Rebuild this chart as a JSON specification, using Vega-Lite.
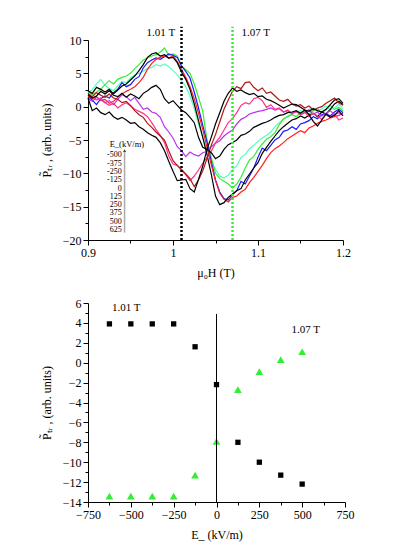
{
"$schema": "https://vega.github.io/schema/vega-lite/v6.json",
"background": "white",
"padding": {"left": 40, "top": 25, "right": 5, "bottom": 5},
"spacing": 19,
"resolve": {"scale": {"color": "independent", "shape": "independent", "size": "independent"}},
"config": {
 "view": {"stroke": null},
 "font": "Liberation Serif",
 "axis": {"grid": false, "domainColor": "#000", "tickColor": "#000", "labelColor": "#000", "titleColor": "#000", "labelFont": "Liberation Serif", "titleFont": "Liberation Serif", "labelFontSize": 12, "titleFontSize": 12, "titleFontWeight": "normal", "domainWidth": 1, "tickWidth": 1, "titlePadding": 9, "labelOverlap": false, "labelFlush": false}
},
"vconcat": [
 {
  "width": 255, "height": 200,
  "layer": [
   {
    "data": {"values": [
{"x":0.900,"k1":2.4,"b":1.5,"r":1.6,"g":2.3,"aq":2.0,"k2":1.8,"v":1.2,"p":1.8,"dr":2.0,"k3":1.3},
{"x":0.905,"k1":2.0,"b":1.0,"r":1.2,"g":1.8,"aq":2.6,"k2":1.3,"v":0.8,"p":1.4,"dr":1.5,"k3":-0.6},
{"x":0.910,"k1":2.9,"b":0.3,"r":1.5,"g":2.2,"aq":3.4,"k2":1.6,"v":1.4,"p":1.0,"dr":2.1,"k3":-0.2},
{"x":0.915,"k1":2.6,"b":1.2,"r":0.9,"g":2.6,"aq":4.1,"k2":2.3,"v":1.0,"p":1.3,"dr":1.7,"k3":-0.9},
{"x":0.920,"k1":2.2,"b":1.6,"r":1.1,"g":3.3,"aq":3.2,"k2":1.9,"v":0.6,"p":0.6,"dr":1.4,"k3":-1.2},
{"x":0.925,"k1":2.6,"b":1.3,"r":0.5,"g":3.9,"aq":2.7,"k2":2.4,"v":0.9,"p":0.2,"dr":1.9,"k3":-0.8},
{"x":0.930,"k1":1.9,"b":2.1,"r":0.8,"g":3.4,"aq":2.4,"k2":1.7,"v":0.3,"p":0.5,"dr":1.3,"k3":-1.5},
{"x":0.935,"k1":2.5,"b":2.6,"r":1.4,"g":4.1,"aq":3.1,"k2":1.5,"v":1.1,"p":-0.2,"dr":1.1,"k3":-1.9},
{"x":0.940,"k1":3.1,"b":3.6,"r":1.9,"g":4.4,"aq":3.8,"k2":2.0,"v":1.8,"p":0.3,"dr":0.6,"k3":-1.6},
{"x":0.945,"k1":3.4,"b":3.0,"r":2.3,"g":4.6,"aq":3.6,"k2":1.4,"v":1.5,"p":0.6,"dr":0.8,"k3":-2.0},
{"x":0.950,"k1":4.0,"b":3.3,"r":2.6,"g":5.0,"aq":4.3,"k2":1.9,"v":0.9,"p":0.1,"dr":0.2,"k3":-2.5},
{"x":0.955,"k1":4.6,"b":4.1,"r":3.0,"g":5.7,"aq":4.8,"k2":1.6,"v":1.4,"p":-0.4,"dr":-0.6,"k3":-2.4},
{"x":0.960,"k1":5.4,"b":4.5,"r":3.6,"g":6.3,"aq":5.0,"k2":1.2,"v":0.5,"p":-0.7,"dr":-1.2,"k3":-3.0},
{"x":0.965,"k1":6.3,"b":5.8,"r":4.4,"g":7.0,"aq":5.3,"k2":2.0,"v":-0.4,"p":-1.0,"dr":-1.6,"k3":-3.4},
{"x":0.970,"k1":7.4,"b":6.6,"r":5.6,"g":7.3,"aq":5.7,"k2":2.4,"v":-0.2,"p":-1.5,"dr":-2.5,"k3":-3.9},
{"x":0.975,"k1":7.9,"b":7.0,"r":6.5,"g":7.6,"aq":5.9,"k2":2.9,"v":-0.8,"p":-2.4,"dr":-3.1,"k3":-4.3},
{"x":0.980,"k1":8.1,"b":7.3,"r":7.1,"g":7.8,"aq":6.3,"k2":3.2,"v":-1.0,"p":-3.4,"dr":-3.8,"k3":-4.6},
{"x":0.985,"k1":7.6,"b":7.1,"r":7.4,"g":8.2,"aq":6.1,"k2":2.6,"v":-1.6,"p":-4.3,"dr":-4.4,"k3":-5.4},
{"x":0.990,"k1":7.8,"b":7.5,"r":7.6,"g":8.8,"aq":6.4,"k2":1.2,"v":-3.0,"p":-5.4,"dr":-5.0,"k3":-6.6},
{"x":0.995,"k1":7.3,"b":7.9,"r":7.3,"g":7.7,"aq":6.0,"k2":0.5,"v":-3.8,"p":-7.4,"dr":-6.6,"k3":-8.2},
{"x":1.000,"k1":7.4,"b":7.7,"r":7.6,"g":7.9,"aq":5.4,"k2":0.9,"v":-4.7,"p":-8.6,"dr":-8.1,"k3":-9.7},
{"x":1.005,"k1":6.6,"b":7.4,"r":6.8,"g":7.6,"aq":4.8,"k2":0.2,"v":-6.0,"p":-8.8,"dr":-8.8,"k3":-11.1},
{"x":1.010,"k1":5.2,"b":6.1,"r":5.6,"g":6.1,"aq":3.9,"k2":-0.5,"v":-6.6,"p":-9.6,"dr":-9.4,"k3":-11.0},
{"x":1.015,"k1":4.1,"b":5.3,"r":4.4,"g":5.6,"aq":3.0,"k2":-0.9,"v":-7.5,"p":-10.2,"dr":-10.1,"k3":-10.9},
{"x":1.020,"k1":2.6,"b":4.3,"r":3.0,"g":5.0,"aq":1.6,"k2":-1.6,"v":-6.8,"p":-11.1,"dr":-10.8,"k3":-12.3},
{"x":1.025,"k1":0.4,"b":2.2,"r":1.2,"g":3.4,"aq":-0.3,"k2":-2.4,"v":-7.2,"p":-10.4,"dr":-12.0,"k3":-12.8},
{"x":1.030,"k1":-2.1,"b":-0.2,"r":-1.0,"g":1.4,"aq":-2.6,"k2":-4.6,"v":-7.4,"p":-9.5,"dr":-11.0,"k3":-10.9},
{"x":1.035,"k1":-4.6,"b":-2.8,"r":-3.4,"g":-0.7,"aq":-4.6,"k2":-6.1,"v":-6.9,"p":-8.5,"dr":-9.6,"k3":-8.9},
{"x":1.040,"k1":-7.2,"b":-5.3,"r":-6.1,"g":-5.0,"aq":-6.4,"k2":-6.4,"v":-6.7,"p":-7.6,"dr":-7.8,"k3":-6.4},
{"x":1.045,"k1":-10.1,"b":-8.2,"r":-8.7,"g":-7.6,"aq":-8.2,"k2":-6.9,"v":-6.0,"p":-6.7,"dr":-5.8,"k3":-4.6},
{"x":1.050,"k1":-13.4,"b":-11.0,"r":-11.1,"g":-10.0,"aq":-9.4,"k2":-7.8,"v":-5.5,"p":-5.4,"dr":-4.2,"k3":-2.6},
{"x":1.055,"k1":-14.7,"b":-12.8,"r":-13.0,"g":-10.8,"aq":-10.4,"k2":-7.4,"v":-5.1,"p":-4.6,"dr":-2.3,"k3":-0.9},
{"x":1.060,"k1":-14.4,"b":-13.8,"r":-13.9,"g":-11.2,"aq":-10.7,"k2":-6.4,"v":-4.4,"p":-3.5,"dr":-0.4,"k3":0.8},
{"x":1.065,"k1":-13.6,"b":-14.0,"r":-14.3,"g":-11.6,"aq":-10.3,"k2":-5.7,"v":-3.9,"p":-2.4,"dr":1.0,"k3":2.0},
{"x":1.070,"k1":-13.1,"b":-13.2,"r":-13.6,"g":-12.2,"aq":-9.4,"k2":-5.4,"v":-3.5,"p":-1.8,"dr":2.3,"k3":2.8},
{"x":1.075,"k1":-12.6,"b":-12.6,"r":-13.4,"g":-11.6,"aq":-8.9,"k2":-5.0,"v":-2.6,"p":-0.9,"dr":3.0,"k3":2.3},
{"x":1.080,"k1":-12.3,"b":-11.2,"r":-12.8,"g":-10.6,"aq":-7.6,"k2":-4.3,"v":-1.9,"p":0.2,"dr":2.7,"k3":2.5},
{"x":1.085,"k1":-11.0,"b":-11.6,"r":-12.4,"g":-9.2,"aq":-7.2,"k2":-4.1,"v":-1.6,"p":0.6,"dr":3.6,"k3":2.1},
{"x":1.090,"k1":-10.1,"b":-10.4,"r":-11.4,"g":-8.0,"aq":-6.3,"k2":-3.7,"v":-1.1,"p":0.4,"dr":3.7,"k3":1.8},
{"x":1.095,"k1":-9.2,"b":-9.2,"r":-10.6,"g":-7.5,"aq":-5.8,"k2":-3.1,"v":-0.9,"p":1.2,"dr":2.9,"k3":2.0},
{"x":1.100,"k1":-8.4,"b":-7.6,"r":-9.7,"g":-6.4,"aq":-5.2,"k2":-2.8,"v":-0.7,"p":1.4,"dr":2.4,"k3":1.5},
{"x":1.105,"k1":-7.0,"b":-6.2,"r":-8.8,"g":-5.6,"aq":-4.7,"k2":-2.5,"v":-0.6,"p":0.9,"dr":2.8,"k3":1.6},
{"x":1.110,"k1":-6.1,"b":-6.6,"r":-7.8,"g":-4.9,"aq":-4.3,"k2":-2.3,"v":-0.4,"p":-0.1,"dr":2.0,"k3":1.1},
{"x":1.115,"k1":-5.2,"b":-5.8,"r":-6.9,"g":-4.5,"aq":-3.8,"k2":-2.0,"v":-0.2,"p":0.3,"dr":2.2,"k3":0.9},
{"x":1.120,"k1":-4.4,"b":-5.0,"r":-6.3,"g":-3.9,"aq":-3.0,"k2":-1.6,"v":-0.5,"p":-0.4,"dr":1.6,"k3":0.6},
{"x":1.125,"k1":-3.6,"b":-4.6,"r":-5.9,"g":-2.7,"aq":-2.4,"k2":-1.3,"v":-0.3,"p":-0.2,"dr":1.0,"k3":0.2},
{"x":1.130,"k1":-3.0,"b":-3.7,"r":-5.4,"g":-1.8,"aq":-1.9,"k2":-1.2,"v":-0.8,"p":-0.8,"dr":0.8,"k3":-0.2},
{"x":1.135,"k1":-2.5,"b":-3.5,"r":-4.8,"g":-1.5,"aq":-1.4,"k2":-0.9,"v":-0.6,"p":-0.5,"dr":1.1,"k3":0.1},
{"x":1.140,"k1":-2.0,"b":-3.0,"r":-4.4,"g":-1.2,"aq":-1.0,"k2":-0.8,"v":-1.0,"p":-1.1,"dr":0.4,"k3":0.4},
{"x":1.145,"k1":-1.8,"b":-3.4,"r":-4.0,"g":-1.5,"aq":-0.8,"k2":-0.6,"v":-0.7,"p":-0.7,"dr":0.1,"k3":0.3},
{"x":1.150,"k1":-1.4,"b":-2.6,"r":-3.6,"g":-0.9,"aq":-0.6,"k2":-1.0,"v":-1.2,"p":-1.3,"dr":0.3,"k3":-0.1},
{"x":1.155,"k1":-1.7,"b":-2.4,"r":-3.9,"g":-0.7,"aq":-0.9,"k2":-0.5,"v":-0.9,"p":-0.8,"dr":-0.2,"k3":-0.5},
{"x":1.160,"k1":-1.3,"b":-2.1,"r":-3.2,"g":-1.1,"aq":-0.4,"k2":-1.2,"v":-0.5,"p":-1.5,"dr":0.1,"k3":-0.7},
{"x":1.165,"k1":-1.0,"b":-1.5,"r":-2.9,"g":-0.6,"aq":-0.2,"k2":-2.2,"v":-1.1,"p":-1.0,"dr":-0.5,"k3":-0.3},
{"x":1.170,"k1":-1.5,"b":-1.8,"r":-2.5,"g":-0.3,"aq":-0.7,"k2":-2.9,"v":-0.8,"p":-1.4,"dr":-0.2,"k3":-0.6},
{"x":1.175,"k1":-0.8,"b":-1.2,"r":-2.2,"g":-0.9,"aq":-0.3,"k2":-2.0,"v":-1.4,"p":-1.9,"dr":0.0,"k3":-0.8},
{"x":1.180,"k1":-1.1,"b":-1.0,"r":-2.0,"g":-0.5,"aq":0.1,"k2":-1.1,"v":-1.0,"p":-1.2,"dr":0.5,"k3":-0.4},
{"x":1.185,"k1":-0.4,"b":-1.4,"r":-1.7,"g":0.2,"aq":-0.5,"k2":-1.6,"v":-0.6,"p":-1.6,"dr":0.9,"k3":0.3},
{"x":1.190,"k1":0.4,"b":-0.8,"r":-1.5,"g":-0.4,"aq":-0.2,"k2":-1.3,"v":-1.2,"p":-1.1,"dr":1.3,"k3":1.0},
{"x":1.195,"k1":0.8,"b":-0.4,"r":-1.3,"g":-0.1,"aq":0.4,"k2":-0.6,"v":-0.9,"p":-2.0,"dr":0.6,"k3":1.2},
{"x":1.200,"k1":0.3,"b":-0.9,"r":-1.0,"g":-0.6,"aq":-0.3,"k2":-1.4,"v":-1.3,"p":-1.7,"dr":0.2,"k3":0.5}
    ]},
    "transform": [{"fold": ["aq","g","b","r","k1","v","p","dr","k2","k3"], "as": ["curve","P"]}],
    "mark": {"type": "line", "strokeWidth": 1.2},
    "encoding": {
     "x": {"field": "x", "type": "quantitative", "scale": {"domain": [0.9, 1.2], "nice": false, "zero": false},
       "axis": {"title": "μ₀H (T)", "labelOverlap": false, "tickCount": 100, "values": [0.9,0.95,1,1.05,1.1,1.15,1.2], "format": ".2~f", "labelExpr": "abs(datum.value*10 - round(datum.value*10)) < 0.01 ? datum.label : ''", "tickSize": {"condition": {"test": "abs(datum.value*10 - round(datum.value*10)) < 0.01", "value": 5}, "value": 3}}},
     "y": {"field": "P", "type": "quantitative", "scale": {"domain": [-20, 10], "nice": false, "zero": false},
       "axis": {"title": "P̃ₜᵣ , (arb. units)", "labelOverlap": false, "tickCount": 100, "format": "~g", "values": [-20,-17.5,-15,-12.5,-10,-7.5,-5,-2.5,0,2.5,5,7.5,10], "labelExpr": "datum.value % 5 == 0 ? datum.label : ''", "tickSize": {"condition": {"test": "datum.value % 5 == 0", "value": 5}, "value": 3}}},
     "color": {"field": "curve", "type": "nominal", "legend": null,
       "scale": {"domain": ["aq","g","b","r","k1","v","p","dr","k2","k3"], "range": ["#55ffbb","#33ee33","#1a1aff","#ff2020","#000000","#bb33ee","#ff3388","#b01818","#000000","#000000"]}}
    }
   },
   {
    "data": {"values": [{}]},
    "mark": {"type": "rule", "color": "#000000", "strokeWidth": 2.5, "strokeDash": [2, 2]},
    "encoding": {"x": {"datum": 1.01, "type": "quantitative"}, "y": {"datum": -20, "type": "quantitative"}, "y2": {"datum": 12}}
   },
   {
    "data": {"values": [{}]},
    "mark": {"type": "rule", "color": "#33ee33", "strokeWidth": 2.5, "strokeDash": [2, 2]},
    "encoding": {"x": {"datum": 1.07, "type": "quantitative"}, "y": {"datum": -20, "type": "quantitative"}, "y2": {"datum": 12}}
   },
   {
    "data": {"values": [{}]},
    "mark": {"type": "text", "text": "1.01 T", "align": "right", "baseline": "middle", "fontSize": 11, "font": "Liberation Serif", "color": "#000"},
    "encoding": {"x": {"datum": 1.0025, "type": "quantitative"}, "y": {"datum": 11, "type": "quantitative"}}
   },
   {
    "data": {"values": [{}]},
    "mark": {"type": "text", "text": "1.07 T", "align": "left", "baseline": "middle", "fontSize": 11, "font": "Liberation Serif", "color": "#000"},
    "encoding": {"x": {"datum": 1.0805, "type": "quantitative"}, "y": {"datum": 11, "type": "quantitative"}}
   },
   {
    "data": {"values": [{}]},
    "mark": {"type": "text", "text": "E_(kV/m)", "align": "left", "baseline": "middle", "fontSize": 8.5, "font": "Liberation Serif", "color": "#000"},
    "encoding": {"x": {"datum": 0.9255, "type": "quantitative"}, "y": {"datum": -5.65, "type": "quantitative"}}
   },
   {
    "data": {"values": [{}]},
    "mark": {"type": "text", "text": ["-500","-375","-250","-125","0","125","250","375","500","625"], "align": "right", "baseline": "top", "fontSize": 8, "lineHeight": 8.3, "font": "Liberation Serif", "color": "#000"},
    "encoding": {"x": {"datum": 0.9396, "type": "quantitative"}, "y": {"datum": -6.7, "type": "quantitative"}}
   },
   {
    "data": {"values": [{}]},
    "mark": {"type": "rule", "color": "#aaaaaa", "strokeWidth": 1.5},
    "encoding": {"x": {"datum": 0.943, "type": "quantitative"}, "y": {"datum": -18.9, "type": "quantitative"}, "y2": {"datum": -6.8}}
   },
   {
    "data": {"values": [{}]},
    "mark": {"type": "point", "shape": "triangle-up", "filled": true, "size": 10, "color": "#444444", "opacity": 1},
    "encoding": {"x": {"datum": 0.943, "type": "quantitative"}, "y": {"datum": -6.6, "type": "quantitative"}}
   }
  ]
 },
 {
  "width": 257, "height": 199,
  "layer": [
   {
    "data": {"values": [
{"E":-625,"P":3.9,"s":"1.01 T"},{"E":-500,"P":3.9,"s":"1.01 T"},{"E":-375,"P":3.9,"s":"1.01 T"},{"E":-250,"P":3.9,"s":"1.01 T"},{"E":-125,"P":1.6,"s":"1.01 T"},{"E":0,"P":-2.2,"s":"1.01 T"},{"E":125,"P":-8.0,"s":"1.01 T"},{"E":250,"P":-10.0,"s":"1.01 T"},{"E":375,"P":-11.3,"s":"1.01 T"},{"E":500,"P":-12.2,"s":"1.01 T"},
{"E":-625,"P":-13.4,"s":"1.07 T"},{"E":-500,"P":-13.4,"s":"1.07 T"},{"E":-375,"P":-13.4,"s":"1.07 T"},{"E":-250,"P":-13.4,"s":"1.07 T"},{"E":-125,"P":-11.3,"s":"1.07 T"},{"E":0,"P":-7.9,"s":"1.07 T"},{"E":125,"P":-2.7,"s":"1.07 T"},{"E":250,"P":-0.9,"s":"1.07 T"},{"E":375,"P":0.3,"s":"1.07 T"},{"E":500,"P":1.1,"s":"1.07 T"}
    ]},
    "mark": {"type": "point", "filled": true, "opacity": 1},
    "encoding": {
     "x": {"field": "E", "type": "quantitative", "scale": {"domain": [-750, 750], "nice": false},
       "axis": {"title": "E_ (kV/m)", "labelOverlap": false, "tickCount": 100, "values": [-750,-625,-500,-375,-250,-125,0,125,250,375,500,625,750], "labelExpr": "datum.value % 250 == 0 ? datum.label : ''", "format": "d", "tickSize": {"condition": {"test": "datum.value % 250 == 0", "value": 5}, "value": 3}}},
     "y": {"field": "P", "type": "quantitative", "scale": {"domain": [-14, 6], "nice": false, "zero": false},
       "axis": {"title": "P̃ₜᵣ , (arb. units)", "labelOverlap": false, "tickCount": 100, "format": "d", "values": [-14,-13,-12,-11,-10,-9,-8,-7,-6,-5,-4,-3,-2,-1,0,1,2,3,4,5,6], "labelExpr": "datum.value % 2 == 0 ? datum.label : ''", "tickSize": {"condition": {"test": "datum.value % 2 == 0", "value": 5}, "value": 3}}},
     "shape": {"field": "s", "type": "nominal", "legend": null, "scale": {"domain": ["1.01 T","1.07 T"], "range": ["square","triangle-up"]}},
     "color": {"field": "s", "type": "nominal", "legend": null, "scale": {"domain": ["1.01 T","1.07 T"], "range": ["#000000","#33ee33"]}},
     "size": {"field": "s", "type": "nominal", "legend": null, "scale": {"domain": ["1.01 T","1.07 T"], "range": [28, 60]}}
    }
   },
   {
    "data": {"values": [{}]},
    "mark": {"type": "rule", "color": "#000000", "strokeWidth": 1},
    "encoding": {"x": {"datum": 0, "type": "quantitative"}, "y": {"datum": -14, "type": "quantitative"}, "y2": {"datum": 4.9}}
   },
   {
    "data": {"values": [{}]},
    "mark": {"type": "text", "text": "1.01 T", "align": "left", "baseline": "middle", "fontSize": 11, "font": "Liberation Serif", "color": "#000"},
    "encoding": {"x": {"datum": -610, "type": "quantitative"}, "y": {"datum": 5.5, "type": "quantitative"}}
   },
   {
    "data": {"values": [{}]},
    "mark": {"type": "text", "text": "1.07 T", "align": "left", "baseline": "middle", "fontSize": 11, "font": "Liberation Serif", "color": "#000"},
    "encoding": {"x": {"datum": 438, "type": "quantitative"}, "y": {"datum": 3.25, "type": "quantitative"}}
   }
  ]
 }
]
}
